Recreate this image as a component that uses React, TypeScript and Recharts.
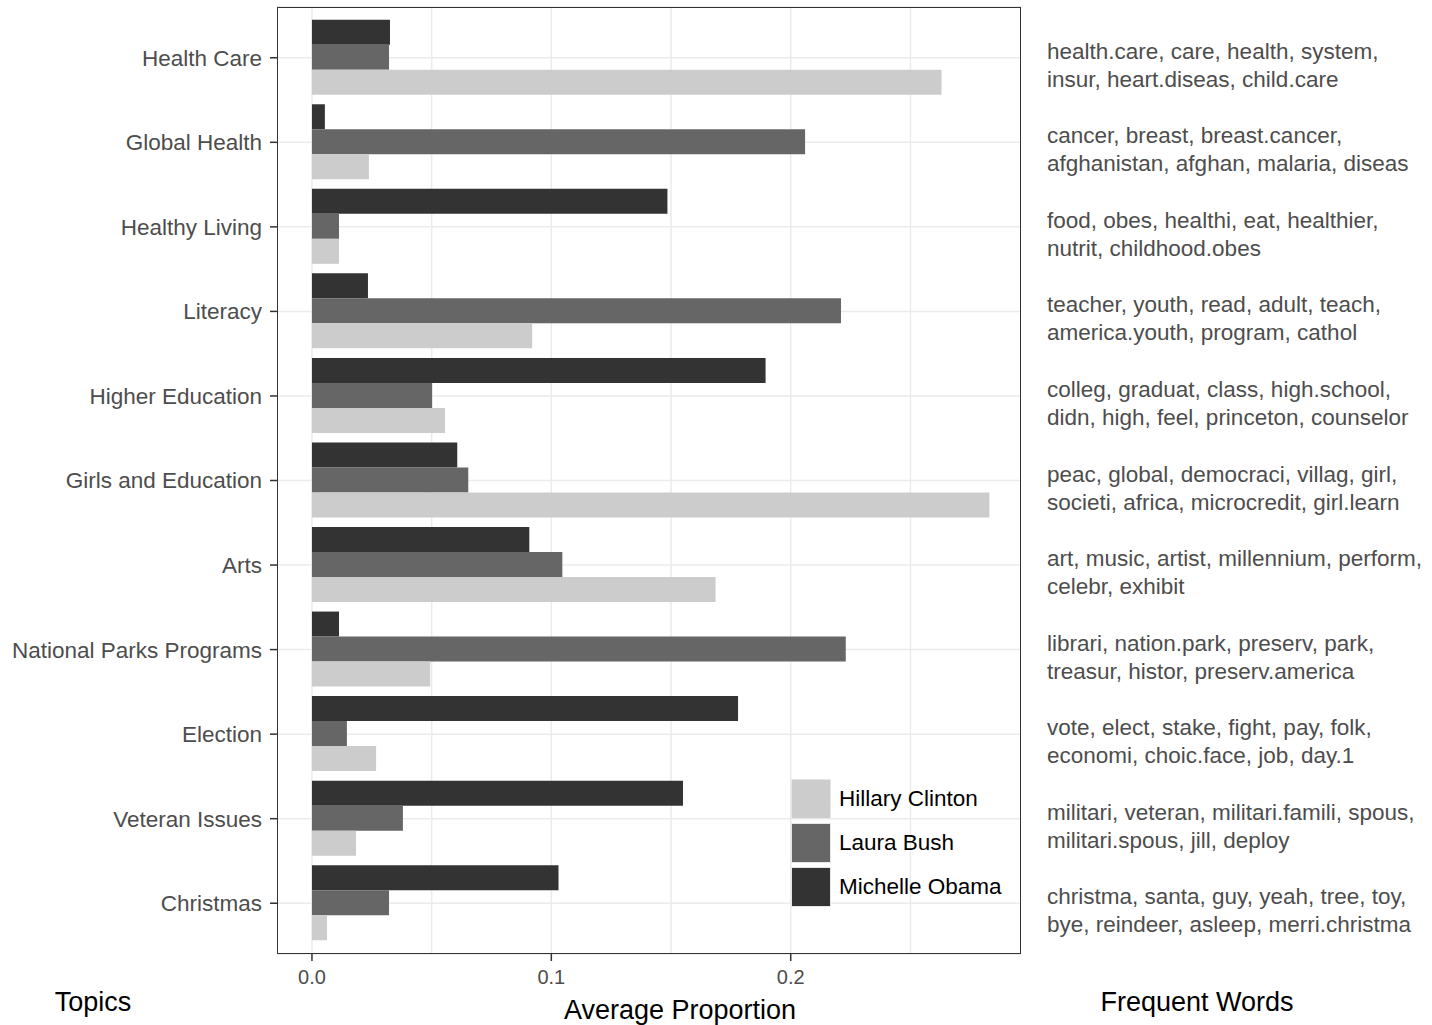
import React from 'react'
import { BarChart, Bar, XAxis, YAxis, CartesianGrid } from 'recharts'

const topics = [
  'Health Care',
  'Global Health',
  'Healthy Living',
  'Literacy',
  'Higher Education',
  'Girls and Education',
  'Arts',
  'National Parks Programs',
  'Election',
  'Veteran Issues',
  'Christmas',
]

const hillary = [0.263, 0.0238, 0.0113, 0.092, 0.0556, 0.283, 0.1686, 0.0494, 0.0268, 0.0184, 0.0063]
const laura = [0.0322, 0.206, 0.0113, 0.221, 0.0502, 0.0653, 0.1046, 0.223, 0.0146, 0.038, 0.0322]
const michelle = [0.0326, 0.0054, 0.1485, 0.0234, 0.1895, 0.0607, 0.0908, 0.0113, 0.178, 0.155, 0.103]

const words = [
  ['health.care, care, health, system,', 'insur, heart.diseas, child.care'],
  ['cancer, breast, breast.cancer,', 'afghanistan, afghan, malaria, diseas'],
  ['food, obes, healthi, eat, healthier,', 'nutrit, childhood.obes'],
  ['teacher, youth, read, adult, teach,', 'america.youth, program, cathol'],
  ['colleg, graduat, class, high.school,', 'didn, high, feel, princeton, counselor'],
  ['peac, global, democraci, villag, girl,', 'societi, africa, microcredit, girl.learn'],
  ['art, music, artist, millennium, perform,', 'celebr, exhibit'],
  ['librari, nation.park, preserv, park,', 'treasur, histor, preserv.america'],
  ['vote, elect, stake, fight, pay, folk,', 'economi, choic.face, job, day.1'],
  ['militari, veteran, militari.famili, spous,', 'militari.spous, jill, deploy'],
  ['christma, santa, guy, yeah, tree, toy,', 'bye, reindeer, asleep, merri.christma'],
]

const xDomain = [-0.0146, 0.2962]
const xTicks = [0, 0.1, 0.2]
const gridTicks = [0, 0.05, 0.1, 0.15, 0.2, 0.25]

const series = [
  { key: 'michelle', name: 'Michelle Obama', color: '#333333' },
  { key: 'laura', name: 'Laura Bush', color: '#666666' },
  { key: 'hillary', name: 'Hillary Clinton', color: '#cccccc' },
]

const rows = topics.map((t, i) => ({
  topic: t,
  hillary: hillary[i],
  laura: laura[i],
  michelle: michelle[i],
}))

const FONT = '"Liberation Sans", Arial, Helvetica, sans-serif'

const WordsTick = (props: any) => {
  const { x, y, payload } = props
  const lines = words[topics.indexOf(payload.value)] || ['', '']
  return (
    <text x={x} y={y} fill="#4d4d4d" fontSize={22.5} fontFamily={FONT} textAnchor="start">
      <tspan x={x} dy={1}>{lines[0]}</tspan>
      <tspan x={x} dy={28}>{lines[1]}</tspan>
    </text>
  )
}

// grid lines at major + minor breaks, mapped with the same linear domain as the x axis
const gridX = ({ xAxis, offset }: any) => {
  if (xAxis && typeof xAxis.scale === 'function') return gridTicks.map(t => xAxis.scale(t))
  return gridTicks.map(t => offset.left + ((t - xDomain[0]) / (xDomain[1] - xDomain[0])) * offset.width)
}

export default function App() {
  const legendOrder = [series[2], series[1], series[0]]
  return (
    <div style={{ position: 'absolute', left: 0, top: 0, width: 1432, height: 1025, background: '#fff', fontFamily: FONT }}>
      <BarChart
        width={1432}
        height={1025}
        data={rows}
        layout="vertical"
        margin={{ top: 7, right: 0, bottom: 0, left: 0 }}
        barCategoryGap="5%"
        barGap={0}
      >
        <CartesianGrid stroke="#ebebeb" strokeWidth={1.5} verticalCoordinatesGenerator={gridX} />
        <XAxis
          type="number"
          domain={xDomain}
          allowDataOverflow
          ticks={xTicks}
          tickFormatter={(v: number) => v.toFixed(1)}
          height={71}
          tickSize={7}
          tickMargin={9}
          axisLine={false}
          tickLine={{ stroke: '#333333', strokeWidth: 1.5 }}
          tick={{ fill: '#4d4d4d', fontSize: 20, fontFamily: FONT }}
        />
        <YAxis
          type="category"
          dataKey="topic"
          width={277}
          padding={{ top: 8.5, bottom: 8.5 }}
          tickSize={7}
          tickMargin={8}
          axisLine={false}
          tickLine={{ stroke: '#333333', strokeWidth: 1.5 }}
          tick={{ fill: '#4d4d4d', fontSize: 22.5, fontFamily: FONT }}
          interval={0}
        />
        <YAxis
          yAxisId="right"
          orientation="right"
          type="category"
          dataKey="topic"
          width={411}
          padding={{ top: 8.5, bottom: 8.5 }}
          tickSize={0}
          tickMargin={26}
          axisLine={false}
          tickLine={false}
          tick={<WordsTick />}
          interval={0}
        />
        {series.map(s => (
          <Bar key={s.key} dataKey={s.key} name={s.name} fill={s.color} isAnimationActive={false} />
        ))}
      </BarChart>

      {/* panel border */}
      <div
        style={{
          position: 'absolute',
          left: 277,
          top: 7,
          width: 744,
          height: 947,
          border: '1.5px solid #333333',
          boxSizing: 'border-box',
          pointerEvents: 'none',
        }}
      />

      {/* legend */}
      <div style={{ position: 'absolute', left: 791, top: 777 }}>
        {legendOrder.map(s => (
          <div key={s.key} style={{ display: 'flex', alignItems: 'center', height: 44 }}>
            <div style={{ width: 40, height: 40, background: s.color, border: '1px solid #e6e6e6', boxSizing: 'border-box' }} />
            <span style={{ marginLeft: 8, fontSize: 22.5, color: '#000' }}>{s.name}</span>
          </div>
        ))}
      </div>

      {/* titles */}
      <div style={{ position: 'absolute', left: 0, width: 186, top: 986, lineHeight: '32px', textAlign: 'center', fontSize: 27, color: '#000' }}>Topics</div>
      <div style={{ position: 'absolute', left: 480, width: 400, top: 994, lineHeight: '32px', textAlign: 'center', fontSize: 27, color: '#000' }}>Average Proportion</div>
      <div style={{ position: 'absolute', left: 1047, width: 300, top: 986, lineHeight: '32px', textAlign: 'center', fontSize: 27, color: '#000' }}>Frequent Words</div>
    </div>
  )
}
